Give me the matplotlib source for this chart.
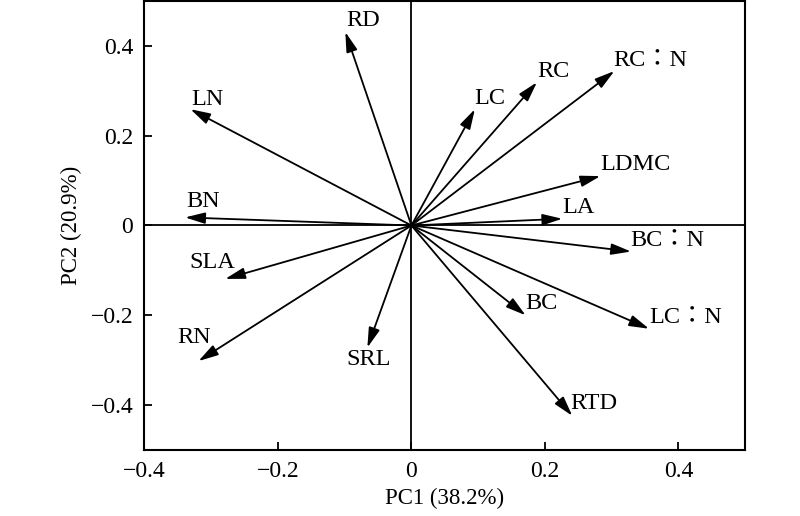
import matplotlib
matplotlib.use('Agg')
import matplotlib.pyplot as plt

# Trait loadings on PC1 / PC2 (arrow tips)
traits = ['RD', 'LN', 'BN', 'SLA', 'RN', 'SRL', 'LC', 'RC', 'RC：N',
          'LDMC', 'LA', 'BC：N', 'BC', 'LC：N', 'RTD']
pc1 = [-0.099, -0.331, -0.339, -0.279, -0.319, -0.066, 0.095, 0.188, 0.304,
       0.283, 0.226, 0.329, 0.171, 0.356, 0.241]
pc2 = [0.431, 0.259, 0.018, -0.119, -0.302, -0.272, 0.259, 0.319, 0.344,
       0.110, 0.015, -0.058, -0.200, -0.230, -0.424]

# Label anchor positions (text centre)
lab_x = [-0.072, -0.305, -0.312, -0.299, -0.326, -0.064, 0.117, 0.2125, 0.358,
         0.336, 0.250, 0.3835, 0.1945, 0.411, 0.2735]
lab_y = [0.456, 0.281, 0.053, -0.082, -0.250, -0.298, 0.283, 0.342, 0.368,
         0.135, 0.039, -0.033, -0.174, -0.206, -0.397]

plt.rcParams['font.family'] = ['Liberation Serif', 'Noto Sans CJK TC']
plt.rcParams['axes.unicode_minus'] = True

fig = plt.figure(figsize=(8, 5.16), dpi=100)
ax = fig.add_axes([0.1805, 0.128, 0.751, 0.87])

ax.axhline(0, color='black', lw=1.3, zorder=1)
ax.axvline(0, color='black', lw=1.3, zorder=1)

for name, x, y, lx, ly in zip(traits, pc1, pc2, lab_x, lab_y):
    ax.annotate('', xy=(x, y), xytext=(0, 0),
                arrowprops=dict(arrowstyle='-|>,head_length=0.6,head_width=0.17',
                                mutation_scale=20, color='black', lw=1.3,
                                shrinkA=0, shrinkB=0))
    ax.text(lx, ly, name, fontsize=17.5, ha='center', va='center')

ax.set_xlim(-0.4, 0.5)
ax.set_ylim(-0.5, 0.5)
ax.set_xticks([-0.4, -0.2, 0, 0.2, 0.4])
ax.set_xticklabels(['−0.4', '−0.2', '0', '0.2', '0.4'])
ax.set_yticks([-0.4, -0.2, 0, 0.2, 0.4])
ax.set_yticklabels(['−0.4', '−0.2', '0', '0.2', '0.4'])
ax.tick_params(direction='in', length=6, width=1.3, labelsize=17, pad=8,
               top=False, right=False)
for s in ax.spines.values():
    s.set_linewidth(1.5)

ax.set_xlabel('PC1 (38.2%)', fontsize=16.5, labelpad=4)
ax.set_ylabel('PC2 (20.9%)', fontsize=16.5, labelpad=6)

fig.savefig('out.png', dpi=100)
